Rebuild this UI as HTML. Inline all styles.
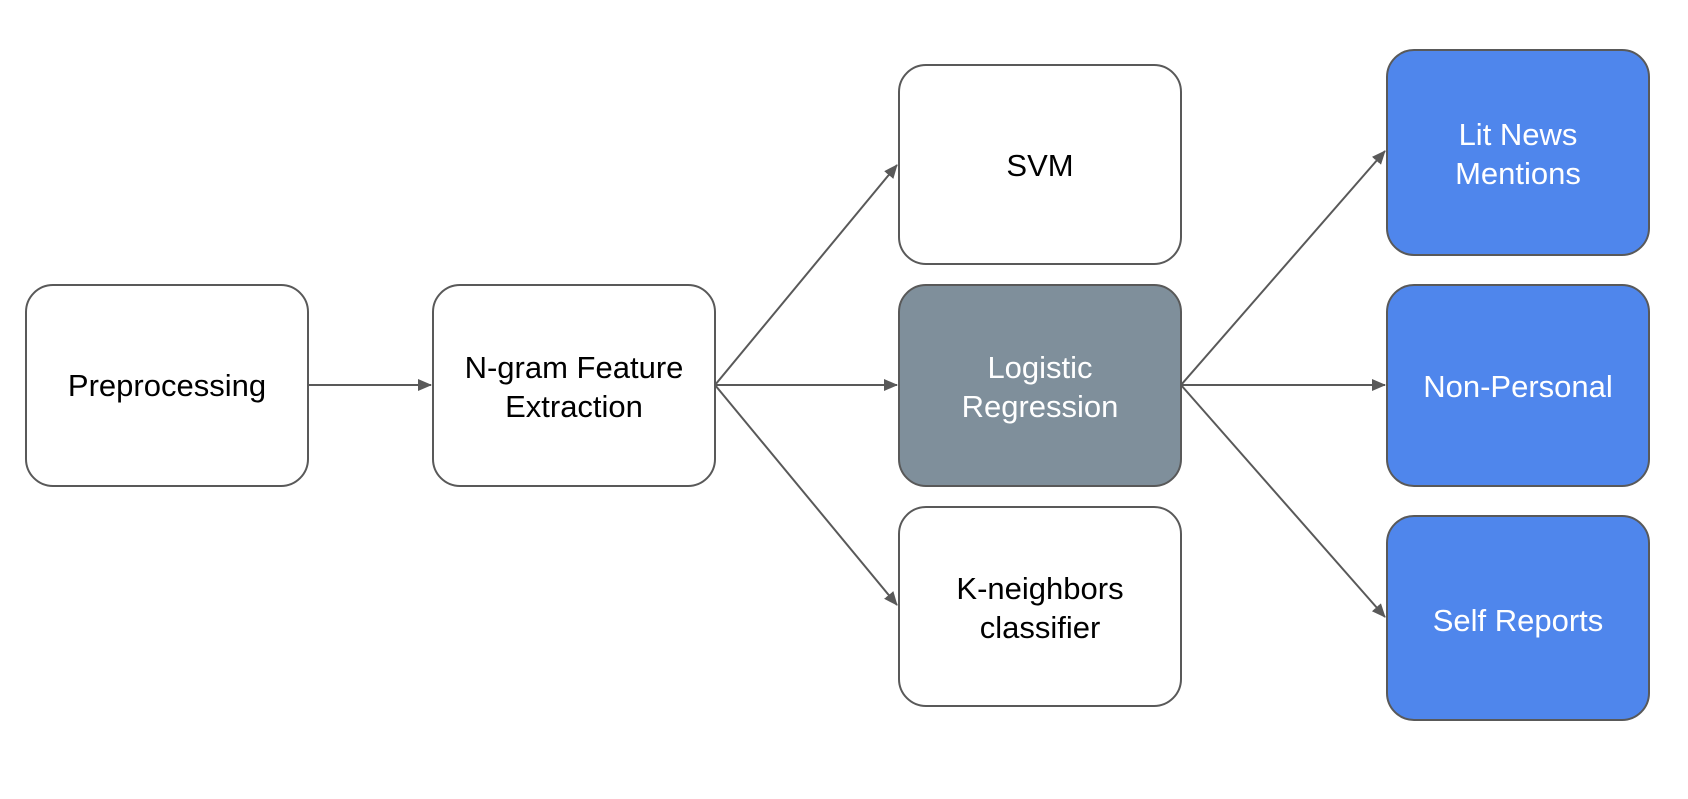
<!DOCTYPE html>
<html><head><style>
body{margin:0;background:#fff;width:1688px;height:794px;overflow:hidden}
svg text{font-family:"Liberation Sans",sans-serif;font-size:31px;text-anchor:middle}
</style></head><body>
<svg width="1688" height="794" viewBox="0 0 1688 794">
<defs><marker id="a" markerWidth="14" markerHeight="14" refX="13" refY="7" orient="auto" markerUnits="userSpaceOnUse" viewBox="0 0 14 14"><path d="M0,1 L14,7 L0,13z" fill="#595959"/></marker></defs>
<g stroke="#595959" stroke-width="2" fill="none">
<line x1="308" y1="385" x2="431" y2="385" marker-end="url(#a)"/>
<line x1="715" y1="385" x2="897" y2="165" marker-end="url(#a)"/>
<line x1="715" y1="385" x2="897" y2="385" marker-end="url(#a)"/>
<line x1="715" y1="385" x2="897" y2="605" marker-end="url(#a)"/>
<line x1="1181" y1="385" x2="1385" y2="151" marker-end="url(#a)"/>
<line x1="1181" y1="385" x2="1385" y2="385" marker-end="url(#a)"/>
<line x1="1181" y1="385" x2="1385" y2="617" marker-end="url(#a)"/>
</g>
<g stroke="#595959" stroke-width="2">
<rect x="26" y="285" width="282" height="201" rx="27" fill="#fff"/>
<rect x="433" y="285" width="282" height="201" rx="27" fill="#fff"/>
<rect x="899" y="65" width="282" height="199" rx="27" fill="#fff"/>
<rect x="899" y="285" width="282" height="201" rx="27" fill="#7f8f9b"/>
<rect x="899" y="507" width="282" height="199" rx="27" fill="#fff"/>
<rect x="1387" y="50" width="262" height="205" rx="27" fill="#4f86ec"/>
<rect x="1387" y="285" width="262" height="201" rx="27" fill="#4f86ec"/>
<rect x="1387" y="516" width="262" height="204" rx="27" fill="#4f86ec"/>
</g>
<text x="167" y="396">Preprocessing</text>
<text x="574" y="378">N-gram Feature</text>
<text x="574" y="417">Extraction</text>
<text x="1040" y="176">SVM</text>
<text x="1040" y="378" fill="#fff">Logistic</text>
<text x="1040" y="417" fill="#fff">Regression</text>
<text x="1040" y="599">K-neighbors</text>
<text x="1040" y="638">classifier</text>
<text x="1518" y="145" fill="#fff">Lit News</text>
<text x="1518" y="184" fill="#fff">Mentions</text>
<text x="1518" y="397" fill="#fff">Non-Personal</text>
<text x="1518" y="631" fill="#fff">Self Reports</text>
</svg>
</body></html>
